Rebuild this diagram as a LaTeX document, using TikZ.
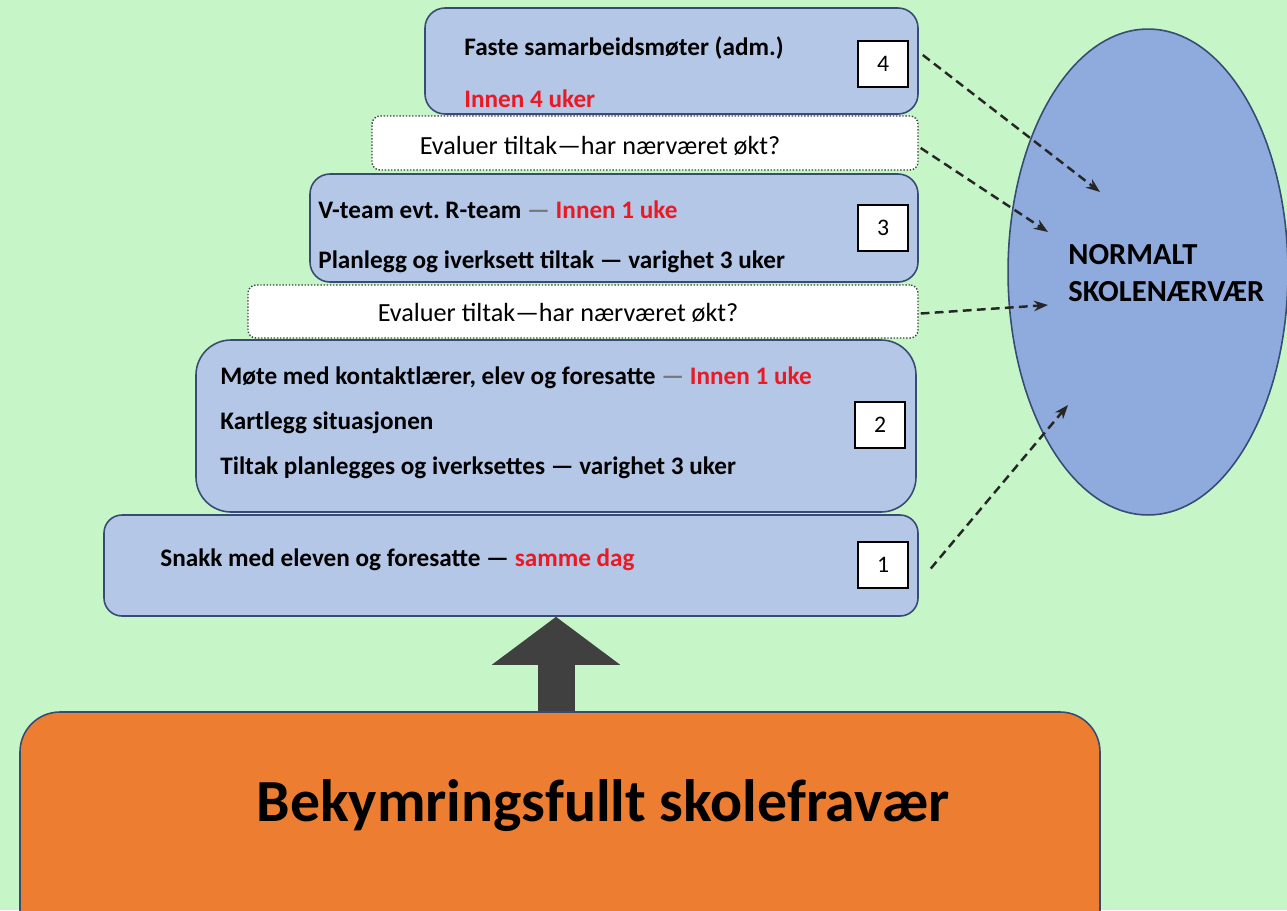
\documentclass[tikz,border=0pt]{standalone}
\usepackage{fontspec}
\setmainfont{Carlito}
\usetikzlibrary{arrows.meta,shapes.geometric,fit}
\definecolor{bg}{RGB}{198,246,200}
\definecolor{boxfill}{RGB}{180,199,231}
\definecolor{boxline}{RGB}{55,75,115}
\definecolor{ellfill}{RGB}{143,170,220}
\definecolor{orangefill}{RGB}{237,125,49}
\definecolor{arrowgray}{RGB}{64,64,64}
\definecolor{redtxt}{RGB}{235,25,35}
\definecolor{dashgray}{RGB}{120,120,120}
\frenchspacing
\begin{document}
\begin{tikzpicture}[x=0.02cm,y=-0.02cm,
  stepbox/.style={draw=boxline, line width=0.9pt, fill=boxfill, inner sep=0pt},
  evalbox/.style={draw=black!75, densely dotted, line width=0.8pt, fill=white, rounded corners=0.16cm, inner sep=0pt},
  numbox/.style={draw=black, line width=1.2pt, fill=white, minimum width=1cm, minimum height=0.92cm, inner sep=0pt, font=\fontsize{13.5}{15}\selectfont},
  txt/.style={anchor=west, inner sep=0pt, font=\fontsize{14.35}{16}\selectfont\bfseries},
  evaltxt/.style={inner sep=0pt, font=\fontsize{14.9}{16}\selectfont},
  flow/.style={line width=1.4pt, draw=black!85, dash pattern=on 5pt off 3pt, -{Stealth[length=8pt,width=6pt]}},
]
\fill[bg] (0,0) rectangle (1287,910);
\useasboundingbox (0,0) rectangle (1287,910);

% ellipse
\node[ellipse, draw=boxline, line width=0.9pt, fill=ellfill, minimum width=5.6cm, minimum height=9.72cm, inner sep=0pt] (ell) at (1148,272) {};
\node[anchor=west, align=left, inner sep=0pt, font=\fontsize{17.4}{21}\selectfont\bfseries] (norm) at (1068,273) {NORMALT\\SKOLENÆRVÆR};

% orange box
\node[draw=boxline, line width=0.9pt, fill=orangefill, rounded corners=0.8cm, inner sep=0pt, fit={(20,712) (1100,950)}] (orange) {};
\node[inner sep=0pt, font=\fontsize{34}{38}\selectfont\bfseries] (otext) at (603,806) {Bekymringsfullt skolefravær};

% step 1
\node[stepbox, rounded corners=0.36cm, fit={(104,515) (918,616)}] (b1) {};
\node[txt] (t1) at (160,560) {Snakk med eleven og foresatte — \textcolor{redtxt}{samme dag}};
\node[numbox] (n1) at (883,565) {1};

% step 2
\node[stepbox, rounded corners=0.7cm, fit={(196,340) (916,512)}] (b2) {};
\node[txt] (t2a) at (220,378) {Møte med kontaktlærer, elev og foresatte \textcolor{dashgray}{—} \textcolor{redtxt}{Innen 1 uke}};
\node[txt] (t2b) at (220,423) {Kartlegg situasjonen};
\node[txt] (t2c) at (220,468) {Tiltak planlegges og iverksettes — varighet 3 uker};
\node[numbox] (n2) at (880,425) {2};

% eval 2
\node[evalbox, fit={(248,285) (918,338)}] (ev2) {};
\node[evaltxt] (ev2t) at (558,313) {Evaluer tiltak—har nærværet økt?};

% step 3
\node[stepbox, rounded corners=0.4cm, fit={(310,174) (918,282)}] (b3) {};
\node[txt] (t3a) at (318,210) {V-team evt. R-team \textcolor{dashgray}{—} \textcolor{redtxt}{Innen 1 uke}};
\node[txt] (t3b) at (318,262) {Planlegg og iverksett tiltak — varighet 3 uker};
\node[numbox] (n3) at (883,228) {3};

% eval 1
\node[evalbox, fit={(372,116) (918,170)}] (ev1) {};
\node[evaltxt] (ev1t) at (600,146) {Evaluer tiltak—har nærværet økt?};

% step 4
\node[stepbox, rounded corners=0.4cm, fit={(425,8) (918,114)}] (b4) {};
\node[txt] (t4a) at (464,48) {Faste samarbeidsmøter (adm.)};
\node[txt, text=redtxt] (t4b) at (464,99) {Innen 4 uker};
\node[numbox] (n4) at (883,64) {4};

% big arrow
\coordinate (ax) at (556,0);
\draw[line width=0.74cm, draw=arrowgray, -{Triangle[width=2.52cm,length=0.96cm]}] (ax |- orange.north) -- (ax |- b1.south);

% dashed arrows
\coordinate (e4) at (1100,192);
\coordinate (e3) at (1048,232);
\coordinate (e2) at (1048,305);
\coordinate (e1) at (1068,405);
\draw[flow] ([shift={(4,-6)}]b4.east) -- (e4);
\draw[flow] ([shift={(2,5)}]ev1.east) -- (e3);
\draw[flow] ([shift={(2,2)}]ev2.east) -- (e2);
\draw[flow] ([shift={(12,3)}]b1.east) -- (e1);
\end{tikzpicture}
\end{document}
